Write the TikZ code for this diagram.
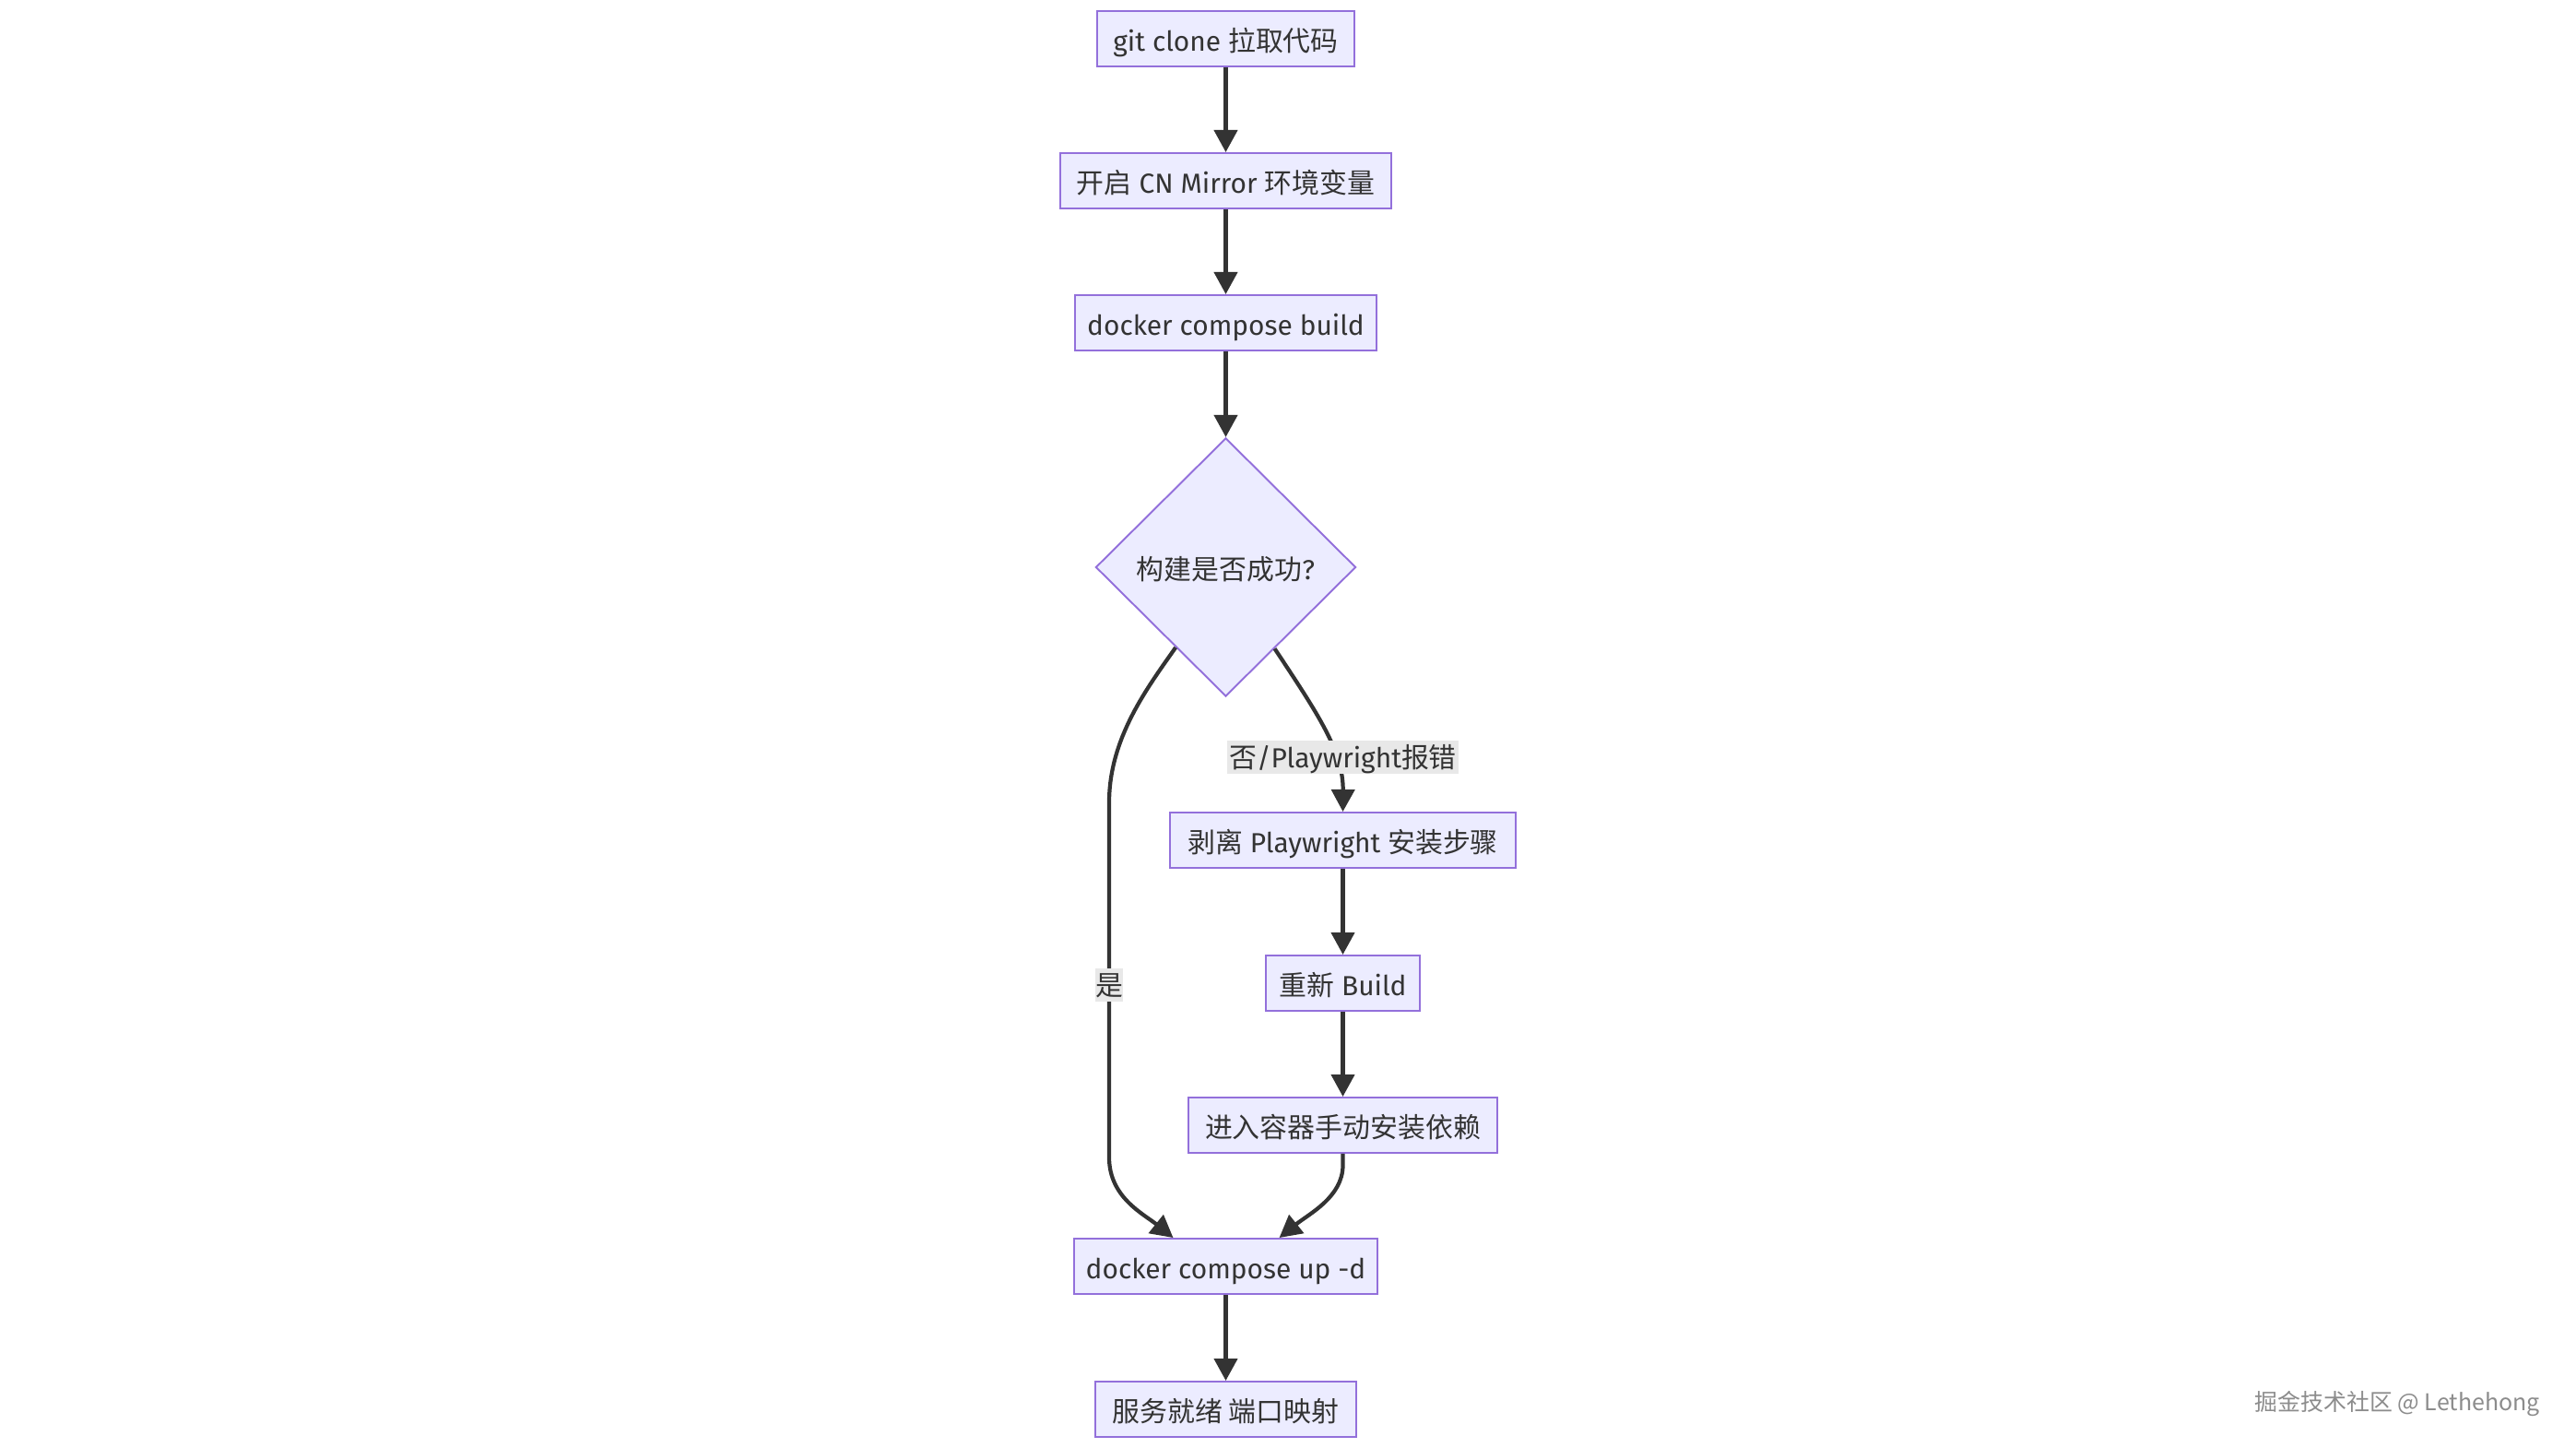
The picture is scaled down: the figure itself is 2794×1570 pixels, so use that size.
\documentclass[tikz,border=0pt]{standalone}
\usepackage{fontspec}
\setmainfont{Fira Sans}
\newfontfamily\cjk{Noto Sans CJK SC}
\usetikzlibrary{arrows.meta,shapes.geometric}
\definecolor{nodefill}{HTML}{ECECFF}
\definecolor{nodedraw}{HTML}{9370DB}
\definecolor{edgecol}{HTML}{333333}
\definecolor{txtcol}{HTML}{333333}
\definecolor{lblbg}{HTML}{E8E8E8}
\definecolor{wmcol}{HTML}{8C8C8C}
\begin{document}
\begin{tikzpicture}[x=0.01cm,y=-0.01cm,
  nfont/.style={font=\fontsize{8.5}{10}\selectfont},
  box/.style={draw=nodedraw, fill=nodefill, line width=0.55pt, text=txtcol, nfont, inner sep=0pt, minimum height=0.6cm, text height=0.29cm, text depth=0.03cm},
  dec/.style={diamond, draw=nodedraw, fill=nodefill, line width=0.55pt, text=txtcol, nfont, inner sep=0pt, minimum width=2.82cm, minimum height=2.8cm, text height=0.29cm, text depth=0.03cm},
  flow/.style={draw=edgecol, line width=1.2pt, -{Triangle[length=0.24cm,width=0.25cm]}},
  lbl/.style={fill=lblbg, text=txtcol, nfont, inner sep=0pt, minimum height=0.35cm, text height=0.25cm, text depth=0.03cm},
]
\fill[white] (0,0) rectangle (2794,1570);
\useasboundingbox (0,0) rectangle (2794,1570);

\node[box, minimum width=2.79cm] (clone) at (1329.5,42) {git clone {\cjk 拉取代码}};
\node[box, minimum width=3.59cm] (mirror) at (1329.5,196) {{\cjk 开启} CN Mirror {\cjk 环境变量}};
\node[box, minimum width=3.27cm] (build) at (1329.5,350) {docker compose build};
\node[dec] (ok) at (1329.5,615) {{\cjk 构建是否成功}?};
\node[box, minimum width=3.75cm] (strip) at (1456.5,911) {{\cjk 剥离} Playwright {\cjk 安装步骤}};
\node[box, minimum width=1.67cm] (rebuild) at (1456.5,1066) {{\cjk 重新} Build};
\node[box, minimum width=3.34cm] (inst) at (1456.5,1220) {\cjk 进入容器手动安装依赖};
\node[box, minimum width=3.29cm] (up) at (1329.5,1373) {docker compose up -d};
\node[box, minimum width=2.83cm] (ready) at (1329.5,1528) {\cjk 服务就绪 端口映射};

\draw[flow] (clone) -- (mirror);
\draw[flow] (mirror) -- (build);
\draw[flow] (build) -- (ok);
\draw[flow] (ok.238.5) .. controls (1245,745) and (1203,800) .. (1203,870) -- (1203,1255) .. controls (1203,1298) and (1240,1316) .. ([xshift=-0.57cm]up.north);
\draw[flow] (ok.301.7) .. controls (1430,775) and (1457,815) .. (strip.north);
\draw[flow] (strip) -- (rebuild);
\draw[flow] (rebuild) -- (inst);
\draw[flow] (inst.south) -- ++(0,13) .. controls (1456,1298) and (1420,1316) .. ([xshift=0.58cm]up.north);
\draw[flow] (up) -- (ready);

\node[lbl, minimum width=2.51cm] (lno) at (1456.5,821) {{\cjk 否}/Playwright{\cjk 报错}};
\node[lbl, minimum width=0.30cm, minimum height=0.36cm] (lyes) at (1203,1068) {\cjk 是};

\node[text=wmcol, font=\cjk\fontsize{7.1}{9}\selectfont, inner sep=0pt] (wm) at (2600,1522) {掘金技术社区 @ Lethehong};
\end{tikzpicture}
\end{document}
